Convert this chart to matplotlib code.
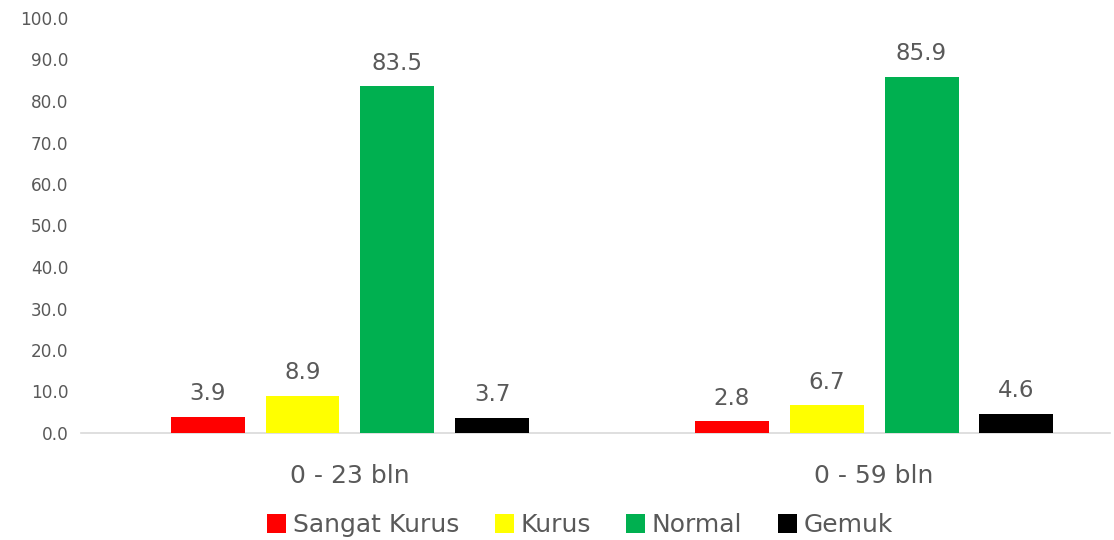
import matplotlib
matplotlib.use("Agg")
import matplotlib.pyplot as plt
import numpy as np

categories = ["0 - 23 bln", "0 - 59 bln"]
series_names = ["Sangat Kurus", "Kurus", "Normal", "Gemuk"]
sangat_kurus = [3.9, 2.8]
kurus = [8.9, 6.7]
normal = [83.5, 85.9]
gemuk = [3.7, 4.6]
yticks = [0, 10, 20, 30, 40, 50, 60, 70, 80, 90, 100]

values = [sangat_kurus, kurus, normal, gemuk]
colors = ["#FF0000", "#FFFF00", "#00B050", "#000000"]
txt = "#595959"

fig = plt.figure(figsize=(11.14, 5.40), dpi=100)
ax = fig.add_axes([81/1114, 107/540, (1110-81)/1114, 415/540])

x = np.arange(len(categories))
width = 0.141
step = 0.181
offsets = [-1.5*step, -0.5*step, 0.5*step, 1.5*step]
for vals, off, c, name in zip(values, offsets, colors, series_names):
    bars = ax.bar(x + off, vals, width, color=c, label=name, zorder=3)
    for b, v in zip(bars, vals):
        ax.text(b.get_x() + b.get_width()/2, v + 2.8, f"{v:.1f}", ha="center",
                va="bottom", fontsize=16.5, color=txt)

ax.set_xlim(-0.513, 1.450)
ax.set_ylim(0, 100)
ax.set_yticks(yticks)
ax.set_yticklabels([f"{t:.1f}" for t in yticks], fontsize=12.2, color=txt)
ax.set_xticks(x)
ax.set_xticklabels(categories, fontsize=18, color=txt)
ax.tick_params(axis="y", length=0, pad=9)
ax.tick_params(axis="x", length=0, pad=22)
for s in ["top", "right", "left"]:
    ax.spines[s].set_visible(False)
ax.spines["bottom"].set_color("#D9D9D9")
ax.spines["bottom"].set_linewidth(1.2)

leg = fig.legend(loc="center", bbox_to_anchor=(580/1114, 1 - 525/540), ncol=4,
                 frameon=False, fontsize=18, handlelength=0.76, handleheight=0.76,
                 handletextpad=0.28, columnspacing=1.4, labelcolor=txt)

fig.savefig("out.png", dpi=100)
